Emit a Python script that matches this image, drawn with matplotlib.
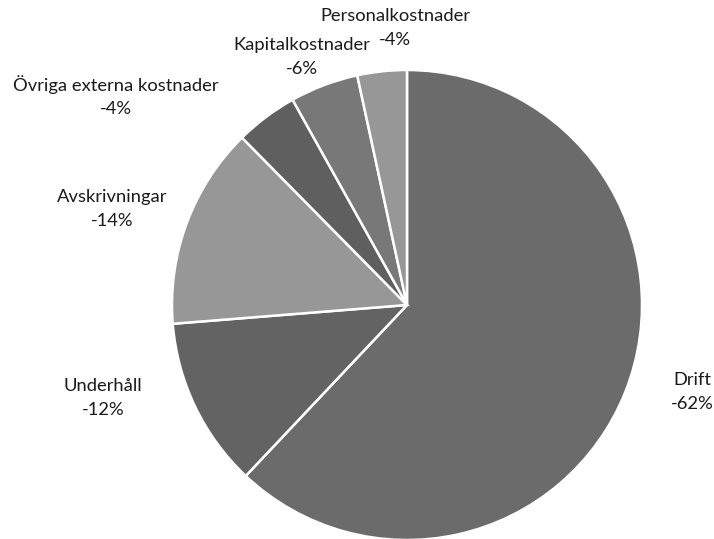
import matplotlib
matplotlib.use("Agg")
import matplotlib.pyplot as plt

categories = ["Drift", "Underhåll", "Avskrivningar", "Övriga externa kostnader",
              "Kapitalkostnader", "Personalkostnader"]
shares = [62.1, 11.7, 13.9, 4.3, 4.7, 3.4]
pct_labels = ["-62%", "-12%", "-14%", "-4%", "-6%", "-4%"]
colors = ["#6b6b6b", "#636363", "#979797", "#5f5f5f", "#787878", "#979797"]

# label anchor positions (pixel coords, y from top)
label_pos = [(692, 392), (103, 398), (112, 209), (116, 96), (302, 57), (395, 28)]

fig = plt.figure(figsize=(7.14, 5.39), dpi=100)
ax = fig.add_axes([0, 0, 1, 1])

ax.pie(shares, colors=colors, startangle=90, counterclock=False,
       center=(407, 539 - 305), radius=235,
       wedgeprops=dict(edgecolor="white", linewidth=1.8), frame=True)
ax.set_xlim(0, 714)
ax.set_ylim(0, 539)
ax.set_aspect("equal")
ax.axis("off")

for cat, pl, (x, y) in zip(categories, pct_labels, label_pos):
    ax.text(x, 539 - y, f"{cat}\n{pl}", ha="center", va="center",
            fontsize=13.2, family="Lato", color="#1a1a1a", linespacing=1.6)

fig.savefig("out.png", dpi=100)
